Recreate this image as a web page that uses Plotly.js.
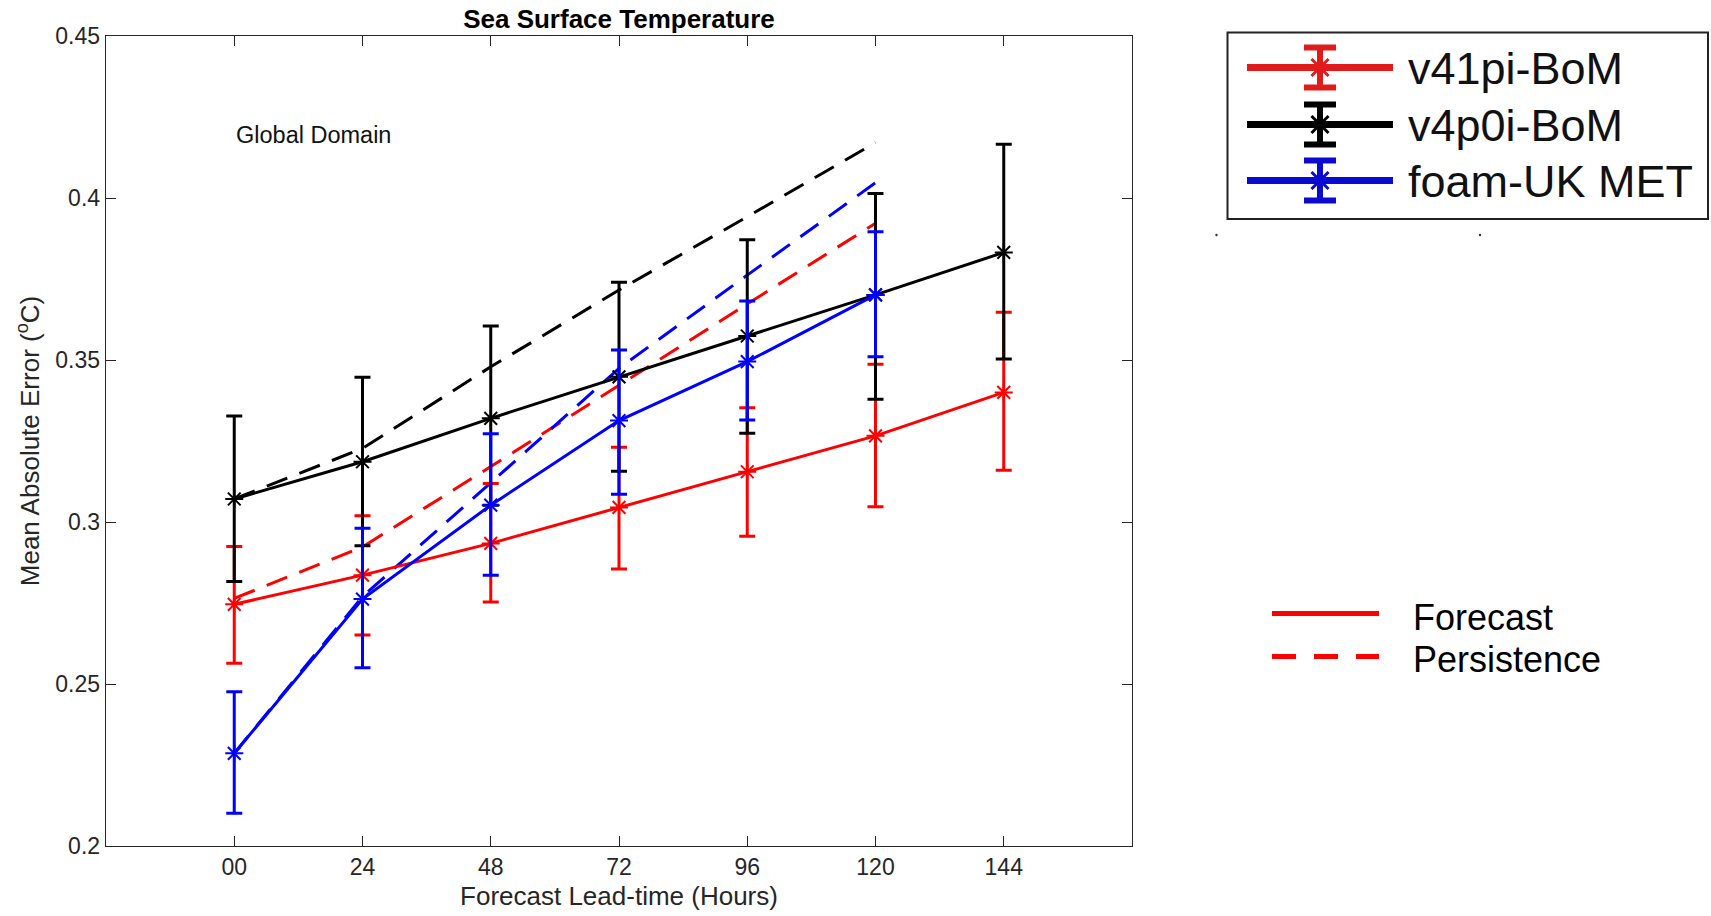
<!DOCTYPE html>
<html>
<head>
<meta charset="utf-8">
<script src="https://cdn.plot.ly/plotly-3.0.1.min.js"></script>
<style>html,body{margin:0;padding:0;background:#fff;}#chart{width:1711px;height:916px;}</style>
</head>
<body>
<div id="chart"></div>
<script>
// ---------------- data ----------------
const leadHours = [0, 24, 48, 72, 96, 120, 144];
const tickLabels = ['00', '24', '48', '72', '96', '120', '144'];
const seriesNames = ['v41pi-BoM', 'v4p0i-BoM', 'foam-UK MET'];
const styleNames = ['Forecast', 'Persistence'];

// v41pi-BoM forecast (mean, upper and lower error-bar ends)
const v41piMean  = [0.2746, 0.2836, 0.2934, 0.3045, 0.3155, 0.3266, 0.3400];
const v41piUpper = [0.2924, 0.3019, 0.3119, 0.3231, 0.3353, 0.3487, 0.3647];
const v41piLower = [0.2564, 0.2651, 0.2753, 0.2855, 0.2956, 0.3047, 0.3160];

// v4p0i-BoM forecast
const v4p0iMean  = [0.3071, 0.3186, 0.3320, 0.3448, 0.3574, 0.3701, 0.3832];
const v4p0iUpper = [0.3327, 0.3447, 0.3605, 0.3740, 0.3871, 0.4014, 0.4166];
const v4p0iLower = [0.2816, 0.2927, 0.3052, 0.3157, 0.3274, 0.3379, 0.3503];

// foam-UK MET forecast (to 120 h)
const foamMean  = [0.2286, 0.2762, 0.3052, 0.3313, 0.3495, 0.3701];
const foamUpper = [0.2476, 0.2981, 0.3272, 0.3531, 0.3682, 0.3896];
const foamLower = [0.2101, 0.2550, 0.2836, 0.3086, 0.3315, 0.3510];

// persistence (to 120 h)
const v41piPersist = [0.2764, 0.2923, 0.3171, 0.3423, 0.3673, 0.3922];
const v4p0iPersist = [0.3071, 0.3227, 0.3479, 0.3716, 0.3942, 0.4171];
const foamPersist  = [0.2286, 0.2770, 0.3121, 0.3474, 0.3762, 0.4047];

// ---------------- styles ----------------
const colors = ['#ff0000', '#000000', '#0000ff'];
const legendColors = ['#e01b1b', '#000000', '#0a0ad0'];
const FONT = 'Liberation Sans, Arial, Helvetica, sans-serif';
const AX = '#262626';

// plot area in pixels
const W = 1711, H = 916;
const PL = 106, PR = 1132, PT = 36, PB = 846;
const px = x => (x - PL) / (PR - PL);
const py = y => (PB - y) / (PB - PT);

function diff(a, b) { return a.map((v, i) => v - b[i]); }

function forecastTrace(name, mean, upper, lower, color) {
  const xs = leadHours.slice(0, mean.length);
  return {
    type: 'scatter', mode: 'lines+markers', name: name, showlegend: false,
    x: xs, y: mean,
    line: {color: color, width: 3},
    marker: {symbol: 'asterisk-open', size: 15, color: color, line: {color: color, width: 2}},
    error_y: {type: 'data', symmetric: false, array: diff(upper, mean), arrayminus: diff(mean, lower),
              color: color, thickness: 3, width: 8},
    hoverinfo: 'x+y+name'
  };
}
function persistTrace(name, vals, color) {
  return {
    type: 'scatter', mode: 'lines', name: name + ' persistence', showlegend: false,
    x: leadHours.slice(0, vals.length), y: vals,
    line: {color: color, width: 3, dash: '22px,13px'},
    hoverinfo: 'x+y+name'
  };
}

const data = [
  persistTrace(seriesNames[0], v41piPersist, colors[0]),
  persistTrace(seriesNames[1], v4p0iPersist, colors[1]),
  persistTrace(seriesNames[2], foamPersist, colors[2]),
  forecastTrace(seriesNames[0], v41piMean, v41piUpper, v41piLower, colors[0]),
  forecastTrace(seriesNames[1], v4p0iMean, v4p0iUpper, v4p0iLower, colors[1]),
  forecastTrace(seriesNames[2], foamMean, foamUpper, foamLower, colors[2])
];

// ---------------- custom legends (shapes + annotations) ----------------
const shapes = [];
const annotations = [];

// box of legend 1
shapes.push({type: 'rect', xref: 'paper', yref: 'paper', x0: px(1227.5), x1: px(1708), y0: py(32.5), y1: py(219),
             line: {color: '#222', width: 2}, fillcolor: 'rgba(0,0,0,0)'});
const rowY = [67.5, 124.5, 180.5];
seriesNames.forEach((n, i) => {
  const c = legendColors[i], y = rowY[i], cx = 1320;
  shapes.push({type: 'line', xref: 'paper', yref: 'paper', x0: px(1247), x1: px(1393), y0: py(y), y1: py(y),
               line: {color: c, width: 7}});
  shapes.push({type: 'line', xref: 'paper', yref: 'paper', x0: px(cx), x1: px(cx), y0: py(y - 20), y1: py(y + 20),
               line: {color: c, width: 6}});
  shapes.push({type: 'line', xref: 'paper', yref: 'paper', x0: px(cx - 16), x1: px(cx + 16), y0: py(y - 20), y1: py(y - 20),
               line: {color: c, width: 6}});
  shapes.push({type: 'line', xref: 'paper', yref: 'paper', x0: px(cx - 16), x1: px(cx + 16), y0: py(y + 20), y1: py(y + 20),
               line: {color: c, width: 6}});
  const r = 12, d = 8.5;
  const path = `M${px(cx - r)},${py(y)}L${px(cx + r)},${py(y)}` +
               `M${px(cx)},${py(y - r)}L${px(cx)},${py(y + r)}` +
               `M${px(cx - d)},${py(y - d)}L${px(cx + d)},${py(y + d)}` +
               `M${px(cx - d)},${py(y + d)}L${px(cx + d)},${py(y - d)}`;
  shapes.push({type: 'path', xref: 'paper', yref: 'paper', path: path, line: {color: c, width: 3}});
  annotations.push({xref: 'paper', yref: 'paper', x: px(1406), y: py(y + 1), xanchor: 'left', yanchor: 'middle',
                    text: n, showarrow: false, font: {family: FONT, size: 45, color: '#111'}});
});
// tiny dots below legend box
[1216.5, 1480].forEach(x => {
  shapes.push({type: 'circle', xref: 'paper', yref: 'paper', x0: px(x - 1.2), x1: px(x + 1.2), y0: py(233.8), y1: py(236.2),
               fillcolor: '#333', line: {width: 0}});
});

// legend 2: Forecast / Persistence
shapes.push({type: 'line', xref: 'paper', yref: 'paper', x0: px(1272), x1: px(1379), y0: py(613.5), y1: py(613.5),
             line: {color: '#ff0000', width: 5}});
shapes.push({type: 'line', xref: 'paper', yref: 'paper', x0: px(1272), x1: px(1379), y0: py(656.5), y1: py(656.5),
             line: {color: '#ff0000', width: 5, dash: '24px,18px'}});
annotations.push({xref: 'paper', yref: 'paper', x: px(1411), y: py(617), xanchor: 'left', yanchor: 'middle',
                  text: styleNames[0], showarrow: false, font: {family: FONT, size: 36, color: '#000'}});
annotations.push({xref: 'paper', yref: 'paper', x: px(1411), y: py(659), xanchor: 'left', yanchor: 'middle',
                  text: styleNames[1], showarrow: false, font: {family: FONT, size: 36, color: '#000'}});

// "Global Domain" label
annotations.push({xref: 'x', yref: 'y', x: 0, y: 0.4194, xanchor: 'left', yanchor: 'middle',
                  text: 'Global Domain', showarrow: false, font: {family: FONT, size: 23.5, color: '#111'}});

const layout = {
  width: W, height: H,
  margin: {l: PL, r: W - PR, t: PT, b: H - PB, pad: 0},
  paper_bgcolor: '#fff', plot_bgcolor: '#fff',
  showlegend: false,
  title: {text: '<b>Sea Surface Temperature</b>', x: 0.5, xref: 'paper', xanchor: 'center',
          y: 1 - 18.5 / H, yref: 'container', yanchor: 'middle',
          font: {family: FONT, size: 26, color: '#000'}},
  xaxis: {
    range: [-24, 168], tickmode: 'array', tickvals: leadHours, ticktext: tickLabels,
    ticks: 'inside', ticklen: 10, tickcolor: AX, tickwidth: 1,
    showline: true, linecolor: AX, linewidth: 1.3, mirror: 'ticks',
    showgrid: false, zeroline: false,
    tickfont: {family: FONT, size: 23, color: AX},
    title: {text: 'Forecast Lead-time (Hours)', font: {family: FONT, size: 26, color: AX}, standoff: 8}
  },
  yaxis: {
    range: [0.2, 0.45], tickmode: 'array', tickvals: [0.2, 0.25, 0.3, 0.35, 0.4, 0.45],
    ticktext: ['0.2', '0.25', '0.3', '0.35', '0.4', '0.45'],
    ticks: 'inside', ticklen: 10, tickcolor: AX, tickwidth: 1,
    showline: true, linecolor: AX, linewidth: 1.3, mirror: 'ticks',
    showgrid: false, zeroline: false,
    tickfont: {family: FONT, size: 23, color: AX},
    title: {text: 'Mean Absolute Error (<sup>o</sup>C)', font: {family: FONT, size: 26, color: AX}, standoff: 8}
  },
  shapes: shapes,
  annotations: annotations
};

Plotly.newPlot('chart', data, layout, {displayModeBar: false, staticPlot: true});
</script>
</body>
</html>
